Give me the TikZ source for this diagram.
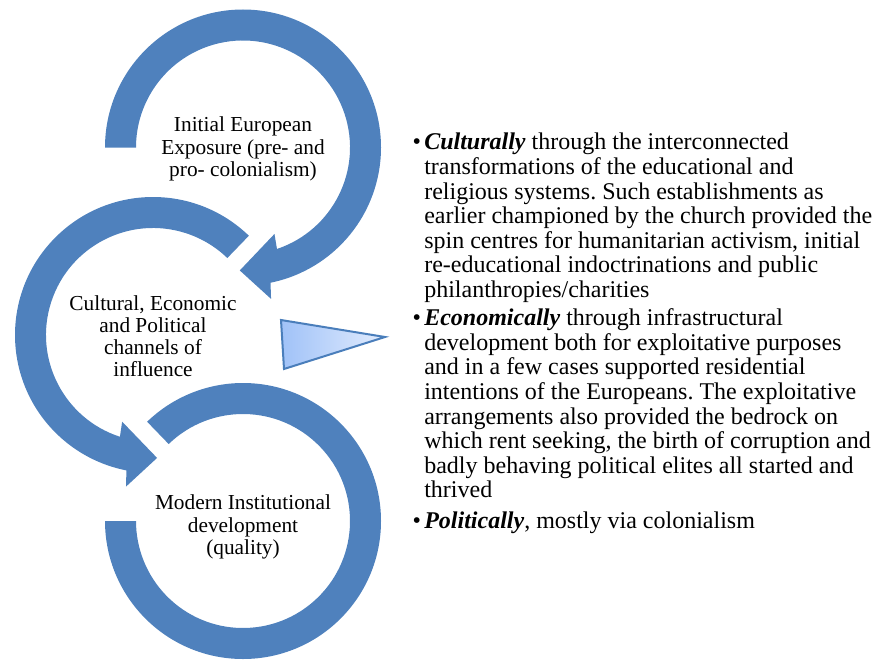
\documentclass[tikz,border=0pt]{standalone}
\usepackage{fontspec}
\setmainfont{Liberation Serif}
\frenchspacing
\definecolor{ringblue}{RGB}{79,129,189}
\definecolor{wedgeedge}{RGB}{74,126,187}
\definecolor{wedgeleft}{RGB}{160,194,248}
\definecolor{wedgeright}{RGB}{226,236,253}
\newcommand{\itembullet}{\llap{\textbullet\hspace{2.5pt}}}
\tikzset{
  circletext/.style={align=center, inner sep=0pt, font=\fontsize{16}{16.6}\selectfont},
  bullettext/.style={anchor=north west, align=left, inner sep=0pt, font=\fontsize{18}{18.45}\selectfont}
}

\begin{document}
\begin{tikzpicture}[x=0.75pt,y=0.75pt,yscale=-1,xscale=1]
\path (0,0) rectangle (885,660); %set diagram to 885 by 660

%centres of the rings
\coordinate (ctop) at (243,147.5);
\coordinate (cmid) at (153,335);
\coordinate (cbot) at (243,521);

%Shape: Circular Arrow (top)
\fill[ringblue] (ctop) ++(-180:138) arc[start angle=-180,end angle=78.5,radius=138] -- ([shift={(79.5:154)}]ctop) -- ([shift={(91.5:123)}]ctop) -- ([shift={(70:92)}]ctop) -- ([shift={(71.5:107)}]ctop) arc[start angle=71.5,end angle=-180,radius=107] -- cycle ;
%Shape: Circular Arrow (middle)
\fill[ringblue] (cmid) ++(-46:138) arc[start angle=-46,end angle=-258.9,radius=138] -- ([shift={(-259.9:154)}]cmid) -- ([shift={(-271.9:123)}]cmid) -- ([shift={(-250.4:92)}]cmid) -- ([shift={(-252:107)}]cmid) arc[start angle=-252,end angle=-46,radius=107] -- cycle ;
%Shape: Arc (bottom)
\fill[ringblue] (cbot) ++(180:138) arc[start angle=180,end angle=-134,radius=138] -- ([shift={(-134:107)}]cbot) arc[start angle=-134,end angle=180,radius=107] -- cycle ;

%Shape: Triangle
\draw[draw=wedgeedge, line width=1.5, left color=wedgeleft, right color=wedgeright] (281,320) -- (385,337) -- (284,369) -- cycle ;

%Ring labels
\node[circletext] (exposure) at (243,149) {Initial European\\Exposure (pre- and\\pro- colonialism)};
\node[circletext] (channels) at (153,336) {Cultural, Economic\\and Political\\channels of\\influence};
\node[circletext] (quality) at (243,527) {Modern Institutional\\development\\(quality)};

%Bullet list
\node[bullettext] (culturally) at (424,133) {\itembullet\textbf{\textit{Culturally}} through the interconnected\\transformations of the educational and\\religious systems. Such establishments as\\earlier championed by the church provided the\\spin centres for humanitarian activism, initial\\re-educational indoctrinations and public\\philanthropies/charities};
\node[bullettext] (economically) at (424,308.5) {\itembullet\textbf{\textit{Economically}} through infrastructural\\development both for exploitative purposes\\and in a few cases supported residential\\intentions of the Europeans. The exploitative\\arrangements also provided the bedrock on\\which rent seeking, the birth of corruption and\\badly behaving political elites all started and\\thrived};
\node[bullettext] (politically) at (424,512) {\itembullet\textbf{\textit{Politically}}, mostly via colonialism};

\end{tikzpicture}
\end{document}
